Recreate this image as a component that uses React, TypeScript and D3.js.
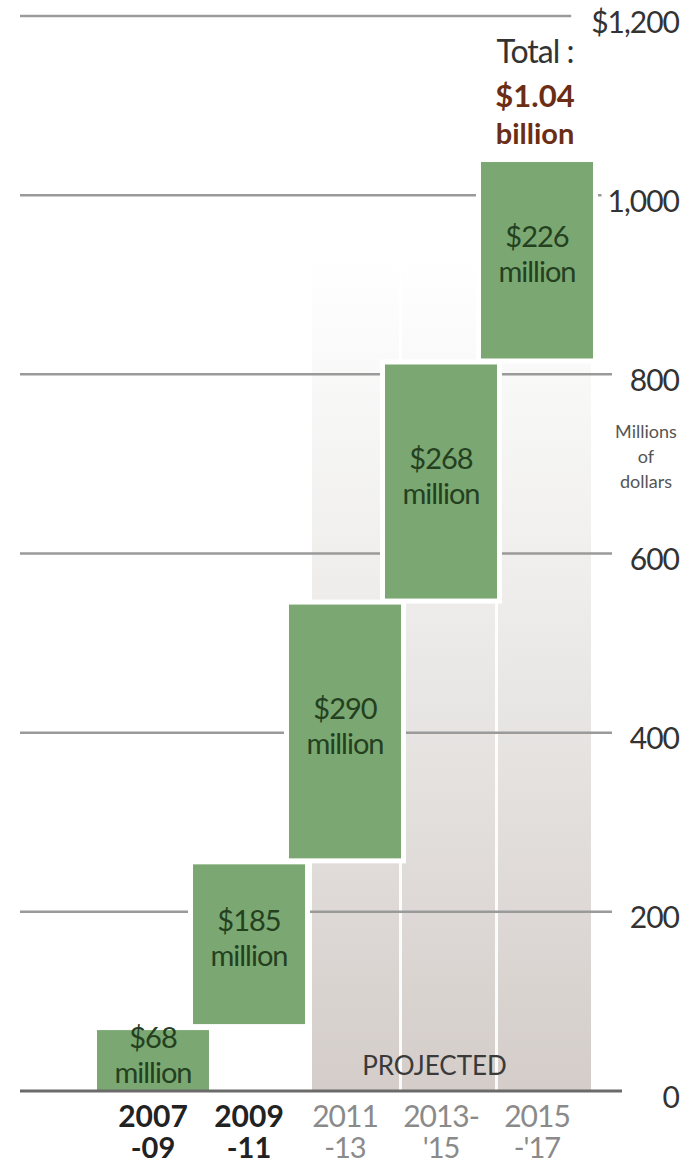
import React, { useEffect, useRef } from "react";
import * as d3 from "d3";

const categories = ["2007-09", "2009-11", "2011-13", "2013-15", "2015-17"];
const catLine1 = ["2007", "2009", "2011", "2013-", "2015"];
const catLine2 = ["-09", "-11", "-13", "'15", "-'17"];
const values = [68, 185, 290, 268, 226];
const projected = [false, false, true, true, true];
const valueLabels = ["$68", "$185", "$290", "$268", "$226"];
const yTicks = [0, 200, 400, 600, 800, 1000, 1200];
const yTickLabels = ["0", "200", "400", "600", "800", "1,000", "$1,200"];
const unitLines = ["Millions", "of", "dollars"];
const totalLines = ["Total :", "$1.04", "billion"];
const projectedLabel = "PROJECTED";

const W = 696;
const H = 1166;
const FONT = "Lato, 'Open Sans', sans-serif";

export default function App() {
  const ref = useRef<SVGSVGElement | null>(null);

  useEffect(() => {
    document.body.style.margin = "0";
    const svg = d3.select(ref.current);
    svg.selectAll("*").remove();

    const x = d3.scaleBand<string>().domain(categories).range([105, 585]).padding(0);
    const y = d3.scaleLinear().domain([0, 1200]).range([1091, 16]);
    const cx = (c: string) => (x(c) as number) + x.bandwidth() / 2;
    const barW = 112;

    const starts: number[] = [];
    let acc = 0;
    values.forEach((v) => {
      starts.push(acc);
      acc += v;
    });

    const defs = svg.append("defs");
    const grad = defs
      .append("linearGradient")
      .attr("id", "projGrad")
      .attr("gradientUnits", "userSpaceOnUse")
      .attr("x1", 0)
      .attr("x2", 0)
      .attr("y1", 260)
      .attr("y2", y(0));
    grad.append("stop").attr("offset", "0%").attr("stop-color", "#ffffff");
    grad.append("stop").attr("offset", "40%").attr("stop-color", "#eeedec");
    grad.append("stop").attr("offset", "100%").attr("stop-color", "#d4cdc9");

    // projected background
    const projCats = categories.filter((_, i) => projected[i]);
    const projLeft = cx(projCats[0]) - 33;
    const projRight = cx(projCats[projCats.length - 1]) + 54;
    svg
      .append("rect")
      .attr("x", projLeft)
      .attr("y", 260)
      .attr("width", projRight - projLeft)
      .attr("height", y(0) - 260)
      .attr("fill", "url(#projGrad)");
    projCats.slice(0, -1).forEach((c) => {
      svg
        .append("rect")
        .attr("x", cx(c) + 54)
        .attr("y", 260)
        .attr("width", 3)
        .attr("height", y(0) - 260)
        .attr("fill", "#ffffff")
        .attr("opacity", 0.9);
    });

    // tick labels (measure first)
    const labelRight = 679;
    const tickG = svg.append("g");
    const lefts: number[] = [];
    yTicks.forEach((t, i) => {
      const tx = tickG
        .append("text")
        .attr("x", labelRight)
        .attr("y", y(t) + 6)
        .attr("dy", "0.35em")
        .attr("text-anchor", "end")
        .attr("font-family", FONT)
        .attr("font-size", 30)
        .attr("fill", "#333")
        .attr("letter-spacing", -1)
        .text(yTickLabels[i]);
      const len = (tx.node() as SVGTextElement).getComputedTextLength();
      lefts.push(labelRight - len);
    });

    // gridlines
    const gridG = svg.insert("g", "g");
    yTicks.forEach((t, i) => {
      if (t === 0) return;
      const end = Math.min(lefts[i] - 6, 612);
      gridG
        .append("line")
        .attr("x1", 20)
        .attr("x2", t === 1200 ? end - 14 : end)
        .attr("y1", y(t))
        .attr("y2", y(t))
        .attr("stroke", "#9a9a9a")
        .attr("stroke-width", 2.5);
    });

    // bars
    const barG = svg.append("g");
    categories.forEach((c, i) => {
      const s = starts[i];
      const e = s + values[i];
      const top = y(e);
      const bottom = s > 0 ? y(s) - 6 : y(s);
      barG
        .append("rect")
        .attr("x", cx(c) - barW / 2 - 5)
        .attr("y", top - 5)
        .attr("width", barW + 10)
        .attr("height", bottom - top + 10)
        .attr("fill", "#ffffff");
    });
    categories.forEach((c, i) => {
      const s = starts[i];
      const e = s + values[i];
      const top = y(e);
      const bottom = s > 0 ? y(s) - 6 : y(s);
      barG
        .append("rect")
        .attr("x", cx(c) - barW / 2)
        .attr("y", top)
        .attr("width", barW)
        .attr("height", bottom - top)
        .attr("fill", "#7ba872");
      const mid = (top + bottom) / 2 - 6;
      barG
        .append("text")
        .attr("x", cx(c))
        .attr("y", mid - 17)
        .attr("dy", "0.35em")
        .attr("text-anchor", "middle")
        .attr("font-family", FONT)
        .attr("font-size", 29)
        .attr("fill", "#24401f")
        .attr("letter-spacing", -1)
        .text(valueLabels[i]);
      barG
        .append("text")
        .attr("x", cx(c))
        .attr("y", mid + 18)
        .attr("dy", "0.35em")
        .attr("text-anchor", "middle")
        .attr("font-family", FONT)
        .attr("font-size", 29)
        .attr("fill", "#24401f")
        .attr("letter-spacing", -1)
        .text("million");
    });

    // zero line
    svg
      .append("line")
      .attr("x1", 20)
      .attr("x2", 622)
      .attr("y1", y(0))
      .attr("y2", y(0))
      .attr("stroke", "#6a6a6a")
      .attr("stroke-width", 3);

    // projected label
    svg
      .append("text")
      .attr("x", (projLeft + projRight) / 2 - 17)
      .attr("y", 1066)
      .attr("dy", "0.35em")
      .attr("text-anchor", "middle")
      .attr("font-family", FONT)
      .attr("font-size", 26)
      .attr("fill", "#3a3a3a")
      .text(projectedLabel);

    // category labels
    categories.forEach((c, i) => {
      const g = svg.append("g");
      const bold = !projected[i];
      g.append("text")
        .attr("x", cx(c))
        .attr("y", 1116)
        .attr("dy", "0.35em")
        .attr("text-anchor", "middle")
        .attr("font-family", FONT)
        .attr("font-size", 30)
        .attr("font-weight", bold ? 700 : 400)
        .attr("fill", bold ? "#222" : "#8a8a8a")
        .attr("letter-spacing", bold ? 0 : -1)
        .text(catLine1[i]);
      g.append("text")
        .attr("x", cx(c))
        .attr("y", 1148)
        .attr("dy", "0.35em")
        .attr("text-anchor", "middle")
        .attr("font-family", FONT)
        .attr("font-size", 29)
        .attr("font-weight", bold ? 700 : 400)
        .attr("fill", bold ? "#222" : "#8a8a8a")
        .attr("letter-spacing", bold ? 0 : -1)
        .text(catLine2[i]);
    });

    // unit label
    unitLines.forEach((t, i) => {
      svg
        .append("text")
        .attr("x", 646)
        .attr("y", 432 + i * 25)
        .attr("dy", "0.35em")
        .attr("text-anchor", "middle")
        .attr("font-family", FONT)
        .attr("font-size", 18)
        .attr("fill", "#555")
        .text(t);
    });

    // total annotation
    const lastCat = categories[categories.length - 1];
    const tcx = cx(lastCat) - 2;
    svg
      .append("text")
      .attr("x", tcx)
      .attr("y", 52)
      .attr("dy", "0.35em")
      .attr("text-anchor", "middle")
      .attr("font-family", FONT)
      .attr("font-size", 32)
      .attr("fill", "#333")
      .attr("letter-spacing", -1)
      .text(totalLines[0]);
    svg
      .append("text")
      .attr("x", tcx)
      .attr("y", 96)
      .attr("dy", "0.35em")
      .attr("text-anchor", "middle")
      .attr("font-family", FONT)
      .attr("font-size", 31)
      .attr("font-weight", 700)
      .attr("fill", "#6b2e14")
      .text(totalLines[1]);
    svg
      .append("text")
      .attr("x", tcx)
      .attr("y", 134)
      .attr("dy", "0.35em")
      .attr("text-anchor", "middle")
      .attr("font-family", FONT)
      .attr("font-size", 29)
      .attr("font-weight", 700)
      .attr("fill", "#6b2e14")
      .text(totalLines[2]);
  }, []);

  return (
    <svg
      ref={ref}
      width={W}
      height={H}
      viewBox={`0 0 ${W} ${H}`}
      style={{ display: "block", background: "#ffffff" }}
    />
  );
}
